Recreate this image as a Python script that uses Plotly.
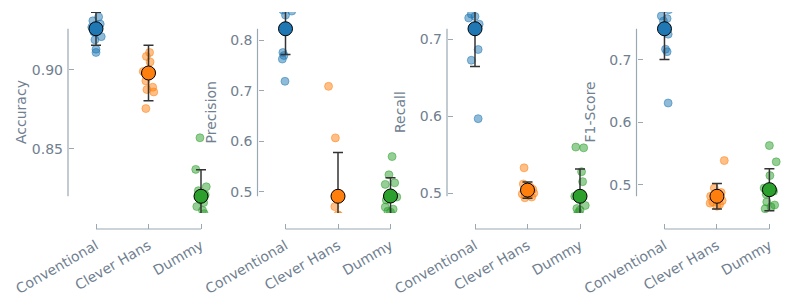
import plotly.graph_objects as go

# ---------------- data ----------------
categories = ["Conventional", "Clever Hans", "Dummy"]
metrics = ["Accuracy", "Precision", "Recall", "F1-Score"]
colors = ["#1f77b4", "#ff7f0e", "#2ca02c"]
fills = ["rgba(31,119,180,0.5)", "rgba(255,127,14,0.5)", "rgba(44,160,44,0.5)"]

# individual fold scores
acc_conv = [0.9335, 0.931, 0.929, 0.927, 0.925, 0.924, 0.921, 0.919, 0.913, 0.911]
acc_ch = [0.911, 0.9085, 0.905, 0.899, 0.8985, 0.893, 0.889, 0.8875, 0.886, 0.8755]
acc_dummy = [0.857, 0.837, 0.826, 0.8235, 0.821, 0.8185, 0.816, 0.8135, 0.811, 0.809]

prec_conv = [0.90, 0.885, 0.87, 0.86, 0.858, 0.85, 0.776, 0.77, 0.763, 0.719]
prec_ch = [0.709, 0.607, 0.471, 0.455, 0.452, 0.448, 0.446, 0.444, 0.442, 0.441]
prec_dummy = [0.570, 0.534, 0.518, 0.515, 0.490, 0.484, 0.470, 0.466, 0.462, 0.460]

rec_conv = [0.80, 0.76, 0.745, 0.733, 0.730, 0.728, 0.720, 0.687, 0.673, 0.597]
rec_ch = [0.533, 0.512, 0.508, 0.505, 0.502, 0.500, 0.499, 0.497, 0.495, 0.494]
rec_dummy = [0.560, 0.559, 0.528, 0.515, 0.496, 0.484, 0.480, 0.478, 0.475, 0.470]

f1_conv = [0.82, 0.80, 0.78, 0.770, 0.766, 0.762, 0.741, 0.717, 0.713, 0.631]
f1_ch = [0.539, 0.495, 0.488, 0.482, 0.478, 0.475, 0.473, 0.471, 0.469, 0.466]
f1_dummy = [0.563, 0.537, 0.515, 0.495, 0.490, 0.485, 0.473, 0.468, 0.465, 0.462]

# horizontal strip offsets
acc_jit = [[0.05, -0.06, 0.08, -0.08, 0.02, -0.04, 0.1, -0.02, 0.0, 0.0],
           [0.02, -0.04, 0.03, -0.1, 0.06, -0.05, 0.08, -0.03, 0.1, -0.05],
           [-0.02, -0.1, 0.1, -0.05, 0.08, 0.0, 0.05, -0.08, 0.03, 0.06]]
prec_jit = [[0.05, -0.08, 0.1, -0.05, 0.12, 0.0, -0.05, -0.03, -0.06, -0.01],
            [-0.18, -0.05, -0.06, 0.0, 0.03, -0.1, 0.1, 0.15, -0.15, 0.07],
            [0.03, -0.03, 0.08, -0.1, 0.12, -0.08, -0.1, 0.05, -0.05, 0.0]]
rec_jit = [[0.1, -0.1, 0.05, -0.07, 0.0, -0.12, 0.08, 0.06, -0.07, 0.06],
           [-0.065, -0.08, 0.05, 0.1, -0.03, 0.12, -0.1, 0.02, 0.08, -0.05],
           [-0.08, 0.07, 0.03, 0.05, -0.1, 0.1, -0.06, 0.0, -0.03, -0.08]]
f1_jit = [[0.0, -0.1, 0.08, -0.06, 0.05, -0.02, 0.07, 0.02, 0.05, 0.07],
          [0.14, -0.05, 0.08, -0.12, 0.03, 0.1, -0.08, -0.13, 0.05, 0.0],
          [0.0, 0.13, 0.01, -0.1, 0.08, -0.06, -0.05, 0.1, 0.03, -0.08]]

# means and standard deviations
acc_mean = [0.926, 0.898, 0.820]
acc_sd = [0.0105, 0.0175, 0.0167]
prec_mean = [0.823, 0.4915, 0.492]
prec_sd = [0.051, 0.0865, 0.036]
rec_mean = [0.714, 0.504, 0.496]
rec_sd = [0.049, 0.0107, 0.0354]
f1_mean = [0.7497, 0.482, 0.4925]
f1_sd = [0.049, 0.0205, 0.0335]

# y tick values
acc_ticks = [0.85, 0.90]
prec_ticks = [0.5, 0.6, 0.7, 0.8]
rec_ticks = [0.5, 0.6, 0.7]
f1_ticks = [0.5, 0.6, 0.7]
tick_fmt = ["{:.2f}", "{:.1f}", "{:.1f}", "{:.1f}"]

points = [[acc_conv, acc_ch, acc_dummy], [prec_conv, prec_ch, prec_dummy],
          [rec_conv, rec_ch, rec_dummy], [f1_conv, f1_ch, f1_dummy]]
jitters = [acc_jit, prec_jit, rec_jit, f1_jit]
means = [acc_mean, prec_mean, rec_mean, f1_mean]
sds = [acc_sd, prec_sd, rec_sd, f1_sd]
ticks = [acc_ticks, prec_ticks, rec_ticks, f1_ticks]

# ---------------- layout ----------------
OFF = 8                      # page body margin
W, H = 793 - OFF, 306 - OFF  # figure size so page fits the window
M_T = 12 - OFF
X_LINE = 229 - OFF           # pixel row of the bottom spine
M_B = H - X_LINE
plot_h = H - M_T - M_B
y_dom = [16 / plot_h, 1.0]
unit = 52.5
cat0_px = [96 - OFF, 285.5 - OFF, 475 - OFF, 664.5 - OFF]
x_range = [-0.5, 2.45]

text_col = "#708090"
line_col = "#9aa8b4"
font = dict(family="DejaVu Sans", size=14, color=text_col)

fig = go.Figure()
layout = dict(width=W, height=H,
              margin=dict(l=0, r=0, t=M_T, b=M_B, autoexpand=False),
              paper_bgcolor="white", plot_bgcolor="white", showlegend=False,
              font=font, shapes=[], annotations=[])

for i, metric in enumerate(metrics):
    xa = "x" if i == 0 else f"x{i+1}"
    ya = "y" if i == 0 else f"y{i+1}"
    dl = (cat0_px[i] + x_range[0] * unit) / W
    dr = min((cat0_px[i] + x_range[1] * unit) / W, 1.0)
    spine_px = cat0_px[i] + x_range[0] * unit - 1.75
    mn, mx = min(means[i]), max(means[i])
    pad = 0.1 * (mx - mn)

    layout["xaxis" if i == 0 else f"xaxis{i+1}"] = dict(
        domain=[dl, dr], range=x_range, anchor="free", position=0, automargin=False,
        tickmode="array", tickvals=[0, 1, 2], ticktext=categories,
        tickangle=-30, ticks="inside", ticklen=5, tickwidth=1.2, tickcolor=line_col,
        ticklabelstandoff=5,
        showline=False, showgrid=False, zeroline=False, tickfont=font)
    layout["yaxis" if i == 0 else f"yaxis{i+1}"] = dict(
        domain=y_dom, range=[mn - pad, mx + pad], anchor="free", position=spine_px / W,
        automargin=False,
        tickmode="array", tickvals=ticks[i], ticktext=[tick_fmt[i].format(t) for t in ticks[i]],
        ticks="inside", ticklen=5, tickwidth=1.2, tickcolor=line_col,
        ticklabelstandoff=5,
        showline=False, showgrid=False, zeroline=False, tickfont=font)

    for j in range(3):
        fig.add_trace(go.Scatter(
            x=[j + d for d in jitters[i][j]], y=points[i][j], xaxis=xa, yaxis=ya,
            mode="markers", hoverinfo="skip",
            marker=dict(size=8, color=fills[j], line=dict(width=1, color=fills[j]))))
    fig.add_trace(go.Scatter(
        x=[0, 1, 2], y=means[i], xaxis=xa, yaxis=ya, mode="markers",
        marker=dict(size=14, color=colors, line=dict(width=1, color="black")),
        error_y=dict(type="data", array=sds[i], color="#333333", thickness=1.5, width=5)))

    layout["shapes"].append(dict(type="line", xref="paper", yref=ya,
                                 x0=spine_px / W, x1=spine_px / W, y0=mn, y1=mx,
                                 line=dict(color=line_col, width=1.2), layer="below"))
    layout["shapes"].append(dict(type="line", xref=xa, yref="paper",
                                 x0=0, x1=2, y0=0, y1=0,
                                 line=dict(color=line_col, width=1.2), layer="below"))
    layout["annotations"].append(dict(
        text=metric, xref="paper", yref="paper", x=spine_px / W, xshift=-47.5,
        y=(y_dom[0] + y_dom[1]) / 2, textangle=-90, showarrow=False,
        xanchor="center", yanchor="middle", font=font))

fig.update_layout(**layout)
fig.write_html("out.html")
